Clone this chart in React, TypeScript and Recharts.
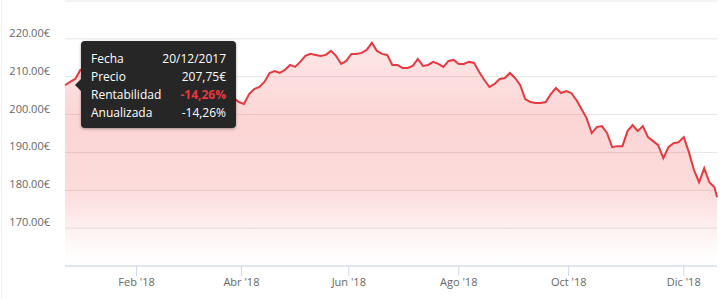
import { AreaChart, Area, XAxis, YAxis, CartesianGrid, Tooltip } from 'recharts'

// sessions from 20/12/2017 to 20/12/2018, weekends and market holidays skipped
const START = '2017-12-20'
const END = '2018-12-20'
const HOLIDAYS = ['2017-12-25', '2017-12-26', '2018-01-01', '2018-03-30', '2018-04-02', '2018-05-01']

// closing price every second session (plus the last one)
const PRICES = [
  207.75, 208.61, 209.4, 211.79, 212.05, 212.85, 213.64, 214.44, 215.5, 216.29,
  216.82, 217.35, 217.88, 216.03, 212.32, 208.08, 206.49, 207.81, 209.14, 208.87,
  209.14, 209.93, 208.87, 207.81, 206.75, 206.49, 205.96, 204.64, 205.17, 204.37,
  203.05, 203.58, 204.64, 204.37, 203.31, 202.78, 205.43, 206.75, 207.28, 208.61,
  210.99, 211.52, 210.99, 211.79, 213.11, 212.58, 213.91, 215.5, 216.03, 215.76,
  215.5, 215.76, 216.82, 215.5, 213.38, 214.17, 216.03, 216.03, 216.29, 217.09,
  218.94, 216.82, 216.03, 215.76, 213.11, 213.11, 212.32, 212.32, 212.85, 214.7,
  212.85, 213.11, 213.91, 213.38, 212.58, 214.17, 214.44, 213.38, 213.38, 213.91,
  213.64, 211.26, 209.14, 207.28, 208.08, 209.4, 209.67, 210.99, 209.67, 207.81,
  204.11, 203.31, 203.05, 203.05, 203.31, 205.43, 207.02, 205.7, 206.23, 205.7,
  203.84, 201.46, 199.07, 195.1, 196.69, 196.95, 195.1, 191.39, 191.66, 191.66,
  195.63, 197.22, 195.63, 196.95, 194.04, 192.98, 191.92, 188.48, 191.39, 192.45,
  192.72, 194.04, 190.07, 185.3, 182.12, 185.83, 182.12, 180.79, 178.13,
]

const MONTH_TICKS = ['2018-02', '2018-04', '2018-06', '2018-08', '2018-10', '2018-12']
const MONTH_LABELS = ["Feb '18", "Abr '18", "Jun '18", "Ago '18", "Oct '18", "Dic '18"]
const Y_TICKS = [160, 170, 180, 190, 200, 210, 220, 230]

function tradingSessions() {
  const out: string[] = []
  const end = Date.parse(END)
  for (let t = Date.parse(START); t <= end; t += 86400000) {
    const d = new Date(t)
    const iso = d.toISOString().slice(0, 10)
    const wd = d.getUTCDay()
    if (wd === 0 || wd === 6 || HOLIDAYS.includes(iso)) continue
    out.push(iso)
  }
  return out
}

const sessions = tradingSessions()
const dates = sessions.filter((_, i) => i % 2 === 0 || i === sessions.length - 1)
const data = dates.map((d, i) => ({ t: sessions.indexOf(d), date: d, price: PRICES[i] }))
const monthTicks = MONTH_TICKS.map((m) => sessions.findIndex((d) => d.startsWith(m)))

const RED = '#e8393f'
const first = PRICES[0]
const last = PRICES[PRICES.length - 1]
const change = last / first - 1

const esNum = (v: number) => v.toFixed(2).replace('.', ',')
const esDate = (iso: string) => iso.split('-').reverse().join('/')

function YTick({ y, payload }: any) {
  const v = payload.value
  if (v === 160 || v === 230) return null
  return (
    <text x={50} y={y - 2} textAnchor="end" fill="#666" fontSize={11}>
      {v.toFixed(2)}€
    </text>
  )
}

function Tip({ active, payload }: any) {
  if (!active || !payload || !payload.length) return null
  const p = payload[0].payload
  const rows: [string, string, boolean][] = [
    ['Fecha', esDate(p.date), false],
    ['Precio', esNum(p.price) + '€', false],
    ['Rentabilidad', esNum(change * 100) + '%', true],
    ['Anualizada', esNum(change * 100) + '%', false],
  ]
  return (
    <div style={{ position: 'relative', paddingLeft: 6 }}>
      <div
        style={{
          position: 'absolute',
          left: 0,
          top: 38,
          width: 0,
          height: 0,
          borderTop: '6px solid transparent',
          borderBottom: '6px solid transparent',
          borderRight: '6px solid #262626',
        }}
      />
      <div
        style={{
          width: 135,
          background: '#262626',
          borderRadius: 4,
          boxShadow: '0 1px 3px rgba(0,0,0,0.35)',
          padding: '9px 10px 6px 10px',
          color: '#fff',
          fontSize: 12,
          lineHeight: '18px',
        }}
      >
        {rows.map(([k, v, hl]) => (
          <div key={k} style={{ display: 'flex', justifyContent: 'space-between' }}>
            <span>{k}</span>
            <span style={hl ? { color: RED, fontWeight: 700 } : undefined}>{v}</span>
          </div>
        ))}
      </div>
    </div>
  )
}

export default function App() {
  return (
    <div
      style={{
        position: 'absolute',
        left: 0,
        top: 0,
        width: 725,
        height: 299,
        background: '#fff',
        fontFamily: '"Open Sans", sans-serif',
      }}
    >
      <div style={{ position: 'absolute', left: 1, top: 0, width: 1, height: 299, background: '#eeeeee' }} />
      <AreaChart width={725} height={299} data={data} margin={{ top: 1, right: 8, bottom: 0, left: 0 }}>
        <defs>
          <linearGradient id="fillRed" x1="0" y1="0" x2="0" y2="1">
            <stop offset="0%" stopColor="#f23c3c" stopOpacity={0.2} />
            <stop offset="35%" stopColor="#f23c3c" stopOpacity={0.36} />
            <stop offset="66%" stopColor="#f23c3c" stopOpacity={0.3} />
            <stop offset="90%" stopColor="#f23c3c" stopOpacity={0.06} />
            <stop offset="100%" stopColor="#f23c3c" stopOpacity={0} />
          </linearGradient>
        </defs>
        <CartesianGrid vertical={false} stroke="#e6e6e6" />
        <XAxis
          dataKey="t"
          type="number"
          domain={[0, sessions.length - 1]}
          ticks={monthTicks}
          tickFormatter={(v) => MONTH_LABELS[monthTicks.indexOf(v)]}
          tick={{ fill: '#666', fontSize: 11 }}
          stroke="#ccd6eb"
          tickSize={10}
          height={33}
        />
        <YAxis
          type="number"
          domain={[160, 230]}
          ticks={Y_TICKS}
          tick={<YTick />}
          axisLine={false}
          tickLine={false}
          width={65}
        />
        <Tooltip
          active
          defaultIndex={0}
          position={{ x: 75, y: 41 }}
          cursor={false}
          content={<Tip />}
          isAnimationActive={false}
          wrapperStyle={{ outline: 'none' }}
        />
        <Area
          type="linear"
          dataKey="price"
          stroke={RED}
          strokeWidth={2}
          fill="url(#fillRed)"
          dot={false}
          activeDot={false}
          isAnimationActive={false}
        />
      </AreaChart>
    </div>
  )
}
